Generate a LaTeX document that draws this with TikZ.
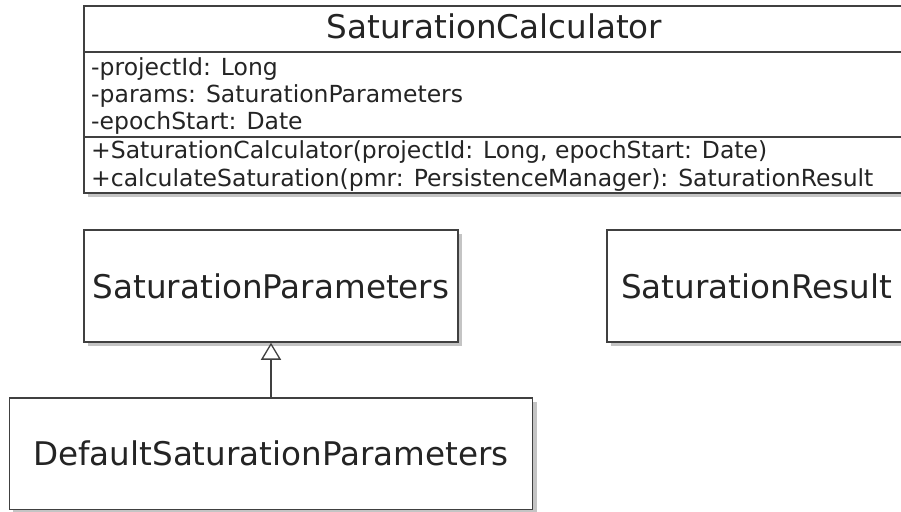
\documentclass[tikz,border=0pt]{standalone}
\usepackage{fontspec}
\setmainfont{DejaVu Sans}
\usetikzlibrary{arrows.meta,shadows}
\definecolor{umlline}{RGB}{64,64,64}
\definecolor{umlshadow}{RGB}{196,196,196}
\definecolor{umltext}{RGB}{36,36,36}
\tikzset{
  umlbox/.style={draw=umlline, line width=1.5pt, fill=white, inner sep=0pt,
    drop shadow={shadow xshift=4pt, shadow yshift=-4pt, fill=umlshadow, opacity=1}},
  bigname/.style={font=\fontsize{32.6}{36}\selectfont, text=umltext},
  member/.style={anchor=base west, inner sep=0pt, font=\fontsize{23.5}{27}\selectfont, text=umltext},
  title/.style={anchor=base, inner sep=0pt, font=\fontsize{32.6}{36}\selectfont, text=umltext},
  sepline/.style={draw=umlline, line width=1.3pt},
  inherit/.style={draw=umlline, line width=1.5pt, -{Triangle[length=17pt, width=20pt, fill=white, line width=1.3pt]}}
}
\begin{document}
\begin{tikzpicture}[x=1pt, y=-1pt]
  \useasboundingbox (0,0) rectangle (901,511);
  \clip (0,0) rectangle (901,511);

  % class with compartments
  \node[umlbox, minimum width=821pt, minimum height=187pt] (calc) at (494.5,99.5) {};
  \draw[sepline] (calc.west |- 0,52) -- (calc.east |- 0,52);
  \draw[sepline] (calc.west |- 0,137) -- (calc.east |- 0,137);
  \node[title] (calcname) at (494.5,38) {SaturationCalculator};
  \node[member] (a1) at (91,75) {-projectId: Long};
  \node[member] (a2) at (91,102) {-params: SaturationParameters};
  \node[member] (a3) at (91,129) {-epochStart: Date};
  \node[member] (m1) at (91,158) {+SaturationCalculator(projectId: Long, epochStart: Date)};
  \node[member] (m2) at (91,186) {+calculateSaturation(pmr: PersistenceManager): SaturationResult};

  % simple classes
  \node[umlbox, bigname, minimum width=374pt, minimum height=112pt] (params) at (271,286) {SaturationParameters};
  \node[umlbox, bigname, minimum width=299pt, minimum height=112pt] (result) at (756.5,286) {SaturationResult};
  \node[umlbox, bigname, minimum width=523.4pt, minimum height=111.3pt] (dflt) at (271,453.7) {DefaultSaturationParameters};

  % generalization
  \draw[inherit] (dflt.north) -- (params.south);
\end{tikzpicture}
\end{document}
